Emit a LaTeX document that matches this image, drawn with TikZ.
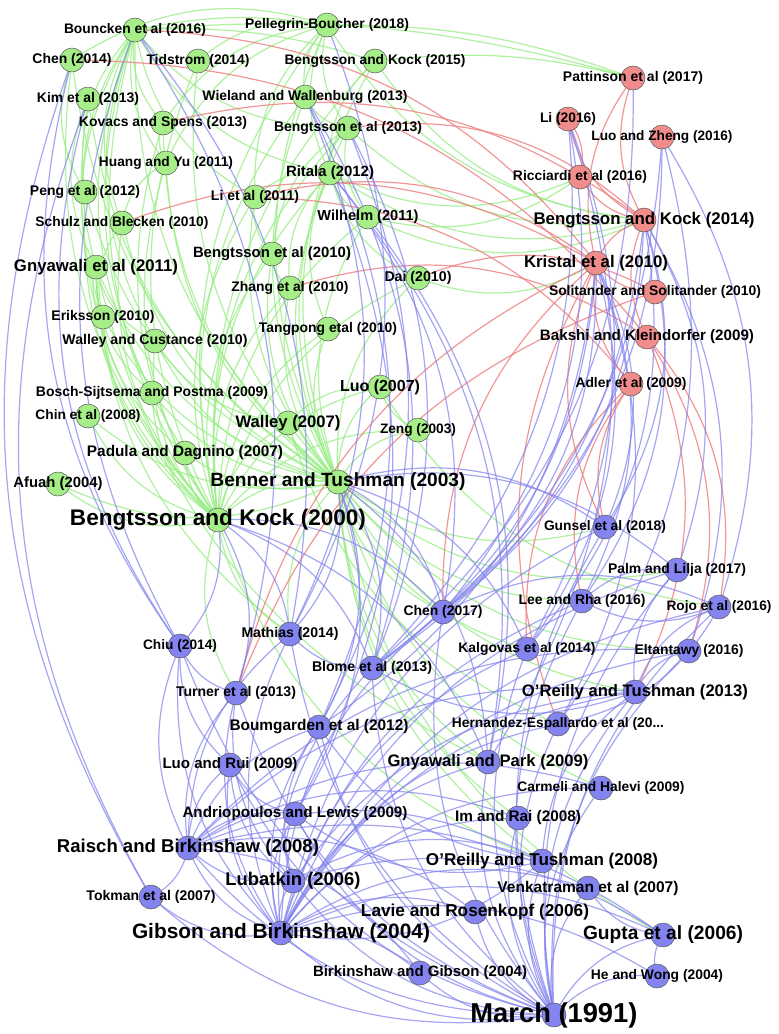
\documentclass[tikz,border=0pt]{standalone}
\usepackage{fontspec}
\setmainfont{Liberation Sans}
\usepackage{graphicx}
\definecolor{gfill}{RGB}{166,238,136}
\definecolor{rfill}{RGB}{240,140,140}
\definecolor{bfill}{RGB}{132,132,240}
\definecolor{gedge}{RGB}{155,238,135}
\definecolor{redge}{RGB}{238,125,125}
\definecolor{bedge}{RGB}{128,128,238}
\pgfdeclarelayer{edgelayer}
\pgfdeclarelayer{textlayer}
\pgfsetlayers{edgelayer,main,textlayer}
\tikzset{
  dot/.style={circle,inner sep=0pt,minimum size=24pt,draw=black!65,line width=0.5pt},
  gdot/.style={dot,fill=gfill},
  rdot/.style={dot,fill=rfill},
  bdot/.style={dot,fill=bfill},
  lbl/.style={inner sep=0pt,text=black},
  ge/.style={draw=gedge,line width=1.2pt,opacity=0.8},
  re/.style={draw=redge,line width=1.2pt,opacity=0.8},
  be/.style={draw=bedge,line width=1.2pt,opacity=0.7},
}
\newcommand{\nd}[6]{%
  \node[#1] (#2) at (#3,#4) {};
  \begin{pgfonlayer}{textlayer}
  \node[lbl] (#2-t) at (#3,#4) {\resizebox{#5pt}{!}{\bfseries #6}};
  \end{pgfonlayer}}
\begin{document}
\begin{tikzpicture}[x={(1pt,0)},y={(0,-1pt)}]
\useasboundingbox (0,0) rectangle (779,1034);
\begin{pgfonlayer}{edgelayer}
\fill[white] (0,0) rectangle (779,1034);
\end{pgfonlayer}
% green nodes
\nd{gdot}{bo}{135}{30}{142}{Bouncken et al (2016)}
\nd{gdot}{pb}{327}{25}{164}{Pellegrin-Boucher (2018)}
\nd{gdot}{ch14}{72}{60}{79}{Chen (2014)}
\nd{gdot}{ti}{198}{61}{103}{Tidstrom (2014)}
\nd{gdot}{bk15}{375}{61}{181}{Bengtsson and Kock (2015)}
\nd{gdot}{ki}{88}{99}{102}{Kim et al (2013)}
\nd{gdot}{ww}{305}{97}{205}{Wieland and Wallenburg (2013)}
\nd{gdot}{ks}{163}{123}{168}{Kovacs and Spens (2013)}
\nd{gdot}{be13}{348}{128}{148}{Bengtsson et al (2013)}
\nd{gdot}{hy}{166}{163}{134}{Huang and Yu (2011)}
\nd{gdot}{ri}{330}{173}{88}{Ritala (2012)}
\nd{gdot}{pe}{85}{192}{110}{Peng et al (2012)}
\nd{gdot}{li11}{255}{197}{88}{Li et al (2011)}
\nd{gdot}{sb}{122}{223}{173}{Schulz and Blecken (2010)}
\nd{gdot}{wi}{368}{217}{101}{Wilhelm (2011)}
\nd{gdot}{be10}{272}{254}{158}{Bengtsson et al (2010)}
\nd{gdot}{gn}{96}{267}{164}{Gnyawali et al (2011)}
\nd{gdot}{dai}{418}{278}{67}{Dai (2010)}
\nd{gdot}{zh}{290}{288}{117}{Zhang et al (2010)}
\nd{gdot}{er}{103}{317}{103}{Eriksson (2010)}
\nd{gdot}{tp}{328}{329}{138}{Tangpong etal (2010)}
\nd{gdot}{wc}{155}{341}{185}{Walley and Custance (2010)}
\nd{gdot}{luo}{380}{387}{80}{Luo (2007)}
\nd{gdot}{bs}{152}{393}{232}{Bosch-Sijtsema and Postma (2009)}
\nd{gdot}{cn}{88}{416}{105}{Chin et al (2008)}
\nd{gdot}{wa}{288}{423}{105}{Walley (2007)}
\nd{gdot}{ze}{418}{430}{76}{Zeng (2003)}
\nd{gdot}{pd}{185}{453}{196}{Padula and Dagnino (2007)}
\nd{gdot}{af}{58}{484}{89}{Afuah (2004)}
\nd{gdot}{bt}{338}{482}{255}{Benner and Tushman (2003)}
\nd{gdot}{bk00}{218}{520}{296}{Bengtsson and Kock (2000)}
% red nodes
\nd{rdot}{pa}{633}{78}{140}{Pattinson et al (2017)}
\nd{rdot}{li16}{568}{119}{56}{Li (2016)}
\nd{rdot}{lz}{662}{137}{141}{Luo and Zheng (2016)}
\nd{rdot}{ric}{580}{177}{134}{Ricciardi et al (2016)}
\nd{rdot}{bk14}{644}{220}{221}{Bengtsson and Kock (2014)}
\nd{rdot}{kr}{596}{263}{144}{Kristal et al (2010)}
\nd{rdot}{so}{655}{292}{212}{Solitander and Solitander (2010)}
\nd{rdot}{bak}{647}{337}{214}{Bakshi and Kleindorfer (2009)}
\nd{rdot}{ad}{631}{384}{111}{Adler et al (2009)}
% blue nodes
\nd{bdot}{gu}{605}{527}{122}{Gunsel et al (2018)}
\nd{bdot}{pl}{677}{570}{138}{Palm and Lilja (2017)}
\nd{bdot}{lr}{582}{601}{127}{Lee and Rha (2016)}
\nd{bdot}{ro}{719}{607}{105}{Rojo et al (2016)}
\nd{bdot}{ch17}{443}{612}{79}{Chen (2017)}
\nd{bdot}{ka}{527}{649}{137}{Kalgovas et al (2014)}
\nd{bdot}{el}{689}{651}{109}{Eltantawy (2016)}
\nd{bdot}{ot13}{635}{692}{226}{O'Reilly and Tushman (2013)}
\nd{bdot}{he}{558}{724}{212}{Hernandez-Espallardo et al (20...}
\nd{bdot}{gp}{488}{762}{201}{Gnyawali and Park (2009)}
\nd{bdot}{chiu}{180}{646}{74}{Chiu (2014)}
\nd{bdot}{ma}{290}{634}{97}{Mathias (2014)}
\nd{bdot}{bl}{372}{668}{120}{Blome et al (2013)}
\nd{bdot}{tu}{236}{693}{120}{Turner et al (2013)}
\nd{bdot}{bg}{319}{727}{179}{Boumgarden et al (2012)}
\nd{bdot}{lrui}{230}{765}{135}{Luo and Rui (2009)}
\nd{bdot}{an}{295}{814}{225}{Andriopoulos and Lewis (2009)}
\nd{bdot}{rb}{188}{848}{262}{Raisch and Birkinshaw (2008)}
\nd{bdot}{lu}{293}{881}{135}{Lubatkin (2006)}
\nd{bdot}{tok}{151}{897}{129}{Tokman et al (2007)}
\nd{bdot}{gb}{281}{933}{298}{Gibson and Birkinshaw (2004)}
\nd{bdot}{bgib}{420}{973}{214}{Birkinshaw and Gibson (2004)}
\nd{bdot}{cm}{601}{788}{167}{Carmeli and Halevi (2009)}
\nd{bdot}{ir}{518}{818}{126}{Im and Rai (2008)}
\nd{bdot}{ot08}{542}{861}{232}{O'Reilly and Tushman (2008)}
\nd{bdot}{ve}{588}{888}{181}{Venkatraman et al (2007)}
\nd{bdot}{lav}{475}{912}{228}{Lavie and Rosenkopf (2006)}
\nd{bdot}{gup}{663}{935}{160}{Gupta et al (2006)}
\nd{bdot}{hw}{657}{976}{132}{He and Wong (2004)}
\nd{bdot}{mar}{554}{1015}{167}{March (1991)}
\begin{pgfonlayer}{edgelayer}
% green edges across the top (flatter arcs)
\foreach \a/\b in {pa/bo,bk15/bo,pa/pb,pa/bk15,pb/bo}
  \draw[ge] (\a.center) to[bend right=10] (\b.center);
% green edges
\foreach \a/\b in {bo/bk00,bo/bt,bo/ks,bo/hy,bo/pe,bo/sb,bo/gn,bo/er,bo/wc,bo/bs,bo/pd,bo/li11,bo/ri,bo/be13,
 pb/bk00,pb/bt,pb/ww,pb/be13,pb/ri,pb/li11,pb/bk14,pb/ks,pb/ch14,pb/hy,pb/ti,
 ch14/bk00,ch14/bt,ch14/pe,ti/bk00,ti/bt,bk15/bk00,bk15/bt,bk15/bk14,bk15/ri,
 ki/bk00,ki/bt,ki/gn,ww/bk00,ww/bt,ww/be13,ks/bk00,ks/bt,ks/hy,
 be13/bk00,be13/bt,be13/ri,be13/wi,be13/be10,be13/bk14,hy/bk00,hy/bt,hy/sb,
 ri/bk00,ri/bt,ri/li11,ri/wi,ri/dai,ri/zh,ri/tp,ri/bk14,ri/ric,pe/bk00,pe/bt,
 li11/bk00,li11/bt,li11/be10,sb/bk00,sb/bt,sb/er,wi/bk00,wi/bt,wi/bk14,wi/ric,
 be10/bk00,be10/bt,be10/zh,gn/bk00,gn/bt,gn/er,gn/wc,gn/bs,gn/pd,
 dai/bk00,dai/bt,dai/kr,zh/bk00,zh/bt,er/bk00,er/bt,tp/bk00,tp/bt,
 wc/bk00,wc/bt,wc/wa,luo/bk00,luo/bt,luo/ze,luo/wa,bs/bk00,bs/bt,cn/bk00,cn/bt,
 wa/bk00,wa/bt,ze/bk00,ze/bt,pd/bk00,pd/bt,af/bk00,af/bt,bt/bk00,
 bt/gu,bt/pl,bt/el,bt/gup,bt/cm,bt/ot13,bt/lr,bt/ma,bt/ka,bt/ch17,bt/ir,bt/ot08,bt/gp,
 gn/gp,gn/ma,bk00/ma,bk00/tu,bk00/ot08,luo/ro,wa/he}
  \draw[ge] (\a.center) to[bend right=25] (\b.center);
% red edges
\foreach \a/\b in {bk14/ks,bk14/be13,pa/bk14,ric/bk14,li16/bk14,bk14/kr,bk14/bak,
 kr/bo,kr/sb,kr/li11,kr/ch17,kr/tu,kr/gu,kr/he,kr/so,kr/ad,
 bak/zh,ro/bak,el/bak,ot13/bak,ad/li11,ad/ka,ad/lr,ad/gu,pa/kr,so/dai,so/tu,ric/li16,bak/ch14}
  \draw[re] (\a.center) to[bend right=25] (\b.center);
% blue edges
\foreach \a/\b in {bo/chiu,ch14/chiu,ki/chiu,chiu/bk00,chiu/tu,chiu/mar,chiu/gb,chiu/rb,chiu/lrui,
 ki/tok,tok/mar,tok/gb,tok/rb,ma/bo,ma/bk00,ma/bt,ma/gb,ma/mar,ma/rb,ma/bl,
 bl/bk14,bl/kr,bl/li16,bl/lz,bl/mar,bl/gb,bl/bk00,bl/bt,bl/ot13,
 tu/bo,tu/bk00,tu/mar,tu/gb,tu/rb,tu/lu,bg/mar,bg/gb,bg/rb,bg/lu,bg/ot08,bg/bt,
 lrui/mar,lrui/gb,lrui/rb,lrui/lu,lrui/an,an/mar,an/gb,an/rb,an/lu,an/ot08,an/bt,
 rb/mar,rb/gb,rb/lu,lu/mar,lu/gb,gb/mar,gb/ot08,bgib/mar,bgib/gb,bgib/rb,
 ch17/kr,ch17/bk14,ch17/li16,ch17/mar,ch17/gb,ch17/bt,ch17/bk00,
 gu/bk14,gu/kr,gu/mar,gu/gb,gu/bt,pl/mar,pl/gb,pl/ot13,pl/bt,pl/lr,
 lr/mar,lr/gb,lr/bk14,lr/kr,lr/ro,ro/mar,ro/gb,ro/ot13,ro/ch17,
 ka/mar,ka/gb,ka/bk14,ka/kr,ka/bt,el/mar,el/gb,el/ot13,el/rb,
 ot13/mar,ot13/gb,ot13/rb,ot13/lu,ot13/ot08,he/mar,he/gb,he/kr,he/ro,
 gp/mar,gp/gb,gp/bk00,gp/bt,gp/ri,gp/li16,cm/mar,cm/gb,cm/rb,ir/mar,ir/gb,ir/rb,
 ot08/mar,ot08/rb,ot08/lu,ve/mar,ve/gb,ve/gup,lav/mar,lav/gb,lav/rb,
 gup/mar,gup/gb,gup/rb,gup/lu,gup/hw,hw/mar,hw/gb,
 ka/li16,he/lz,ro/lz,el/bk14,pl/bk14,ch17/lz,bg/kr,bl/pa,gp/wi,ma/ww,bl/be13,bg/ww,
 ch17/ri,ma/pb,bl/ww,bg/be13,an/ri,ch14/tok}
  \draw[be] (\a.center) to[bend right=25] (\b.center);
\end{pgfonlayer}
\end{tikzpicture}
\end{document}
